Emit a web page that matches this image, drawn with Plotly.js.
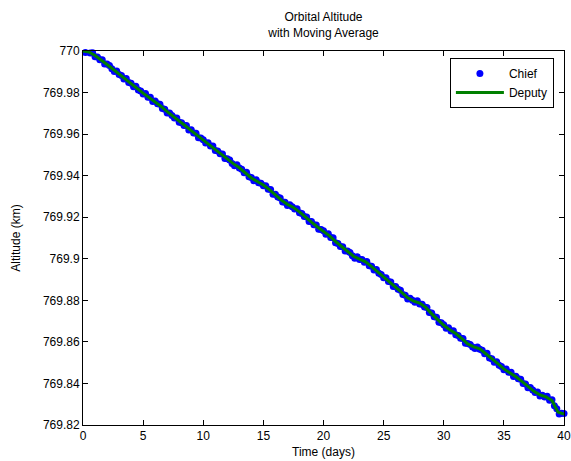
<!DOCTYPE html>
<html>
<head>
<meta charset="utf-8">
<script src="https://cdn.plot.ly/plotly-3.0.1.min.js"></script>
<style>html,body{margin:0;padding:0;background:#fff}#chart{width:571px;height:461px}</style>
</head>
<body>
<div id="chart"></div>
<script>
// Chief samples (every 0.2 day)
const chiefTime = [0,0.2,0.4,0.6,0.8,1,1.2,1.4,1.6,1.8,2,2.2,2.4,2.6,2.8,3,3.2,3.4,3.6,3.8,4,4.2,4.4,4.6,4.8,5,5.2,5.4,5.6,5.8,6,6.2,6.4,6.6,6.8,7,7.2,7.4,7.6,7.8,8,8.2,8.4,8.6,8.8,9,9.2,9.4,9.6,9.8,10,10.2,10.4,10.6,10.8,11,11.2,11.4,11.6,11.8,12,12.2,12.4,12.6,12.8,13,13.2,13.4,13.6,13.8,14,14.2,14.4,14.6,14.8,15,15.2,15.4,15.6,15.8,16,16.2,16.4,16.6,16.8,17,17.2,17.4,17.6,17.8,18,18.2,18.4,18.6,18.8,19,19.2,19.4,19.6,19.8,20,20.2,20.4,20.6,20.8,21,21.2,21.4,21.6,21.8,22,22.2,22.4,22.6,22.8,23,23.2,23.4,23.6,23.8,24,24.2,24.4,24.6,24.8,25,25.2,25.4,25.6,25.8,26,26.2,26.4,26.6,26.8,27,27.2,27.4,27.6,27.8,28,28.2,28.4,28.6,28.8,29,29.2,29.4,29.6,29.8,30,30.2,30.4,30.6,30.8,31,31.2,31.4,31.6,31.8,32,32.2,32.4,32.6,32.8,33,33.2,33.4,33.6,33.8,34,34.2,34.4,34.6,34.8,35,35.2,35.4,35.6,35.8,36,36.2,36.4,36.6,36.8,37,37.2,37.4,37.6,37.8,38,38.2,38.4,38.6,38.8,39,39.2,39.4,39.6,39.8,40];
const chiefAlt = [
770.0002,769.9993,770.0002,769.9990,769.9992,
769.9972,769.9971,769.9958,769.9958,769.9937,
769.9937,769.9930,769.9914,769.9901,769.9904,
769.9887,769.9882,769.9865,769.9868,769.9848,
769.9845,769.9828,769.9830,769.9812,769.9807,
769.9793,769.9795,769.9778,769.9777,769.9757,
769.9759,769.9746,769.9744,769.9723,769.9720,
769.9702,769.9702,769.9690,769.9677,769.9678,
769.9657,769.9655,769.9642,769.9641,769.9620,
769.9621,769.9605,769.9604,769.9582,769.9581,
769.9573,769.9557,769.9559,769.9543,769.9543,
769.9521,769.9519,769.9505,769.9504,769.9483,
769.9482,769.9475,769.9459,769.9448,769.9452,
769.9437,769.9431,769.9414,769.9416,769.9395,
769.9391,769.9376,769.9380,769.9366,769.9363,
769.9351,769.9352,769.9335,769.9333,769.9311,
769.9311,769.9297,769.9293,769.9273,769.9272,
769.9256,769.9260,769.9251,769.9240,769.9241,
769.9221,769.9218,769.9203,769.9201,769.9180,
769.9180,769.9164,769.9163,769.9142,769.9141,
769.9135,769.9118,769.9120,769.9103,769.9101,
769.9077,769.9074,769.9059,769.9058,769.9037,
769.9037,769.9030,769.9014,769.9003,769.9010,
769.8997,769.8996,769.8983,769.8987,769.8967,
769.8964,769.8946,769.8948,769.8930,769.8924,
769.8909,769.8909,769.8891,769.8888,769.8867,
769.8867,769.8853,769.8849,769.8828,769.8824,
769.8806,769.8810,769.8800,769.8791,769.8798,
769.8782,769.8781,769.8768,769.8766,769.8741,
769.8739,769.8721,769.8718,769.8695,769.8692,
769.8683,769.8666,769.8668,769.8652,769.8654,
769.8634,769.8631,769.8617,769.8616,769.8593,
769.8592,769.8588,769.8576,769.8568,769.8576,
769.8565,769.8560,769.8543,769.8545,769.8523,
769.8519,769.8502,769.8504,769.8487,769.8481,
769.8466,769.8469,769.8454,769.8454,769.8433,
769.8435,769.8422,769.8420,769.8400,769.8397,
769.8379,769.8380,769.8368,769.8356,769.8359,
769.8340,769.8343,769.8335,769.8338,769.8319,
769.8322,769.8293,769.8278,769.8253,769.8257,
769.8255];

// Deputy (moving average, every 0.5 day)
const deputyTime = [0,0.5,1,1.5,2,2.5,3,3.5,4,4.5,5,5.5,6,6.5,7,7.5,8,8.5,9,9.5,10,10.5,11,11.5,12,12.5,13,13.5,14,14.5,15,15.5,16,16.5,17,17.5,18,18.5,19,19.5,20,20.5,21,21.5,22,22.5,23,23.5,24,24.5,25,25.5,26,26.5,27,27.5,28,28.5,29,29.5,30,30.5,31,31.5,32,32.5,33,33.5,34,34.5,35,35.5,36,36.5,37,37.5,38,38.5,39,39.5,40];
const deputyAlt = [770.0000,769.9995,769.9978,769.9958,769.9935,769.9912,769.9888,769.9866,769.9843,769.9820,769.9797,769.9776,769.9756,769.9733,769.9708,769.9684,769.9662,769.9640,769.9617,769.9594,769.9570,769.9549,769.9527,769.9504,769.9480,769.9458,769.9438,769.9414,769.9389,769.9372,769.9355,769.9333,769.9308,769.9282,769.9262,769.9247,769.9226,769.9200,769.9176,769.9153,769.9132,769.9110,769.9083,769.9058,769.9035,769.9012,769.8998,769.8985,769.8962,769.8938,769.8913,769.8888,769.8864,769.8838,769.8812,769.8796,769.8787,769.8766,769.8735,769.8708,769.8680,769.8658,769.8640,769.8616,769.8590,769.8576,769.8566,769.8543,769.8517,769.8495,769.8470,769.8453,769.8432,769.8410,769.8385,769.8362,769.8345,769.8335,769.8318,769.8262,769.8252];

const xTickVals = [0,5,10,15,20,25,30,35,40];
const xTickText = ['0','5','10','15','20','25','30','35','40'];
const yTickVals = [769.82,769.84,769.86,769.88,769.9,769.92,769.94,769.96,769.98,770];
const yTickText = ['769.82','769.84','769.86','769.88','769.9','769.92','769.94','769.96','769.98','770'];

const FONT = 'Liberation Sans, Arial, sans-serif';

const traces = [
  {x: chiefTime, y: chiefAlt, name: 'Chief', type: 'scatter', mode: 'markers',
   marker: {color: 'rgb(0,0,255)', size: 7}, cliponaxis: false},
  {x: deputyTime, y: deputyAlt, name: 'Deputy', type: 'scatter', mode: 'lines',
   line: {color: 'rgb(0,128,0)', width: 3}, cliponaxis: false}
];

const axisCommon = {
  showline: true, linecolor: '#000', linewidth: 1, mirror: 'ticks',
  ticks: 'inside', ticklen: 5, tickcolor: '#000', tickwidth: 1,
  showgrid: false, zeroline: false, tickmode: 'array',
  tickfont: {family: FONT, size: 12, color: '#000'}
};

const layout = {
  width: 571, height: 461,
  margin: {l: 83, r: 7, t: 51, b: 36},
  paper_bgcolor: '#fff', plot_bgcolor: '#fff',
  font: {family: FONT, size: 12, color: '#000'},
  showlegend: true,
  title: {text: 'Orbital Altitude<br>with Moving Average', x: 0.5, xref: 'paper',
          y: 1 - 21/461, yref: 'container', yanchor: 'top',
          font: {family: FONT, size: 12, color: '#000'}},
  xaxis: Object.assign({}, axisCommon, {range: [0, 40], tickvals: xTickVals, ticktext: xTickText,
          ticklabeloverflow: 'allow',
          title: {text: 'Time (days)', standoff: 5, font: {size: 12}}}),
  yaxis: Object.assign({}, axisCommon, {range: [769.82, 770], tickvals: yTickVals, ticktext: yTickText,
          ticklabeloverflow: 'allow',
          title: {text: 'Altitude (km)', standoff: 19, font: {size: 12}}}),
  legend: {x: 0.979, xanchor: 'right', y: 0.981, yanchor: 'top',
           bordercolor: '#000', borderwidth: 1, bgcolor: '#fff',
           font: {family: FONT, size: 12, color: '#000'},
           tracegroupgap: 0, itemwidth: 48}
};

Plotly.newPlot('chart', traces, layout, {displayModeBar: false, staticPlot: true});
</script>
</body>
</html>
